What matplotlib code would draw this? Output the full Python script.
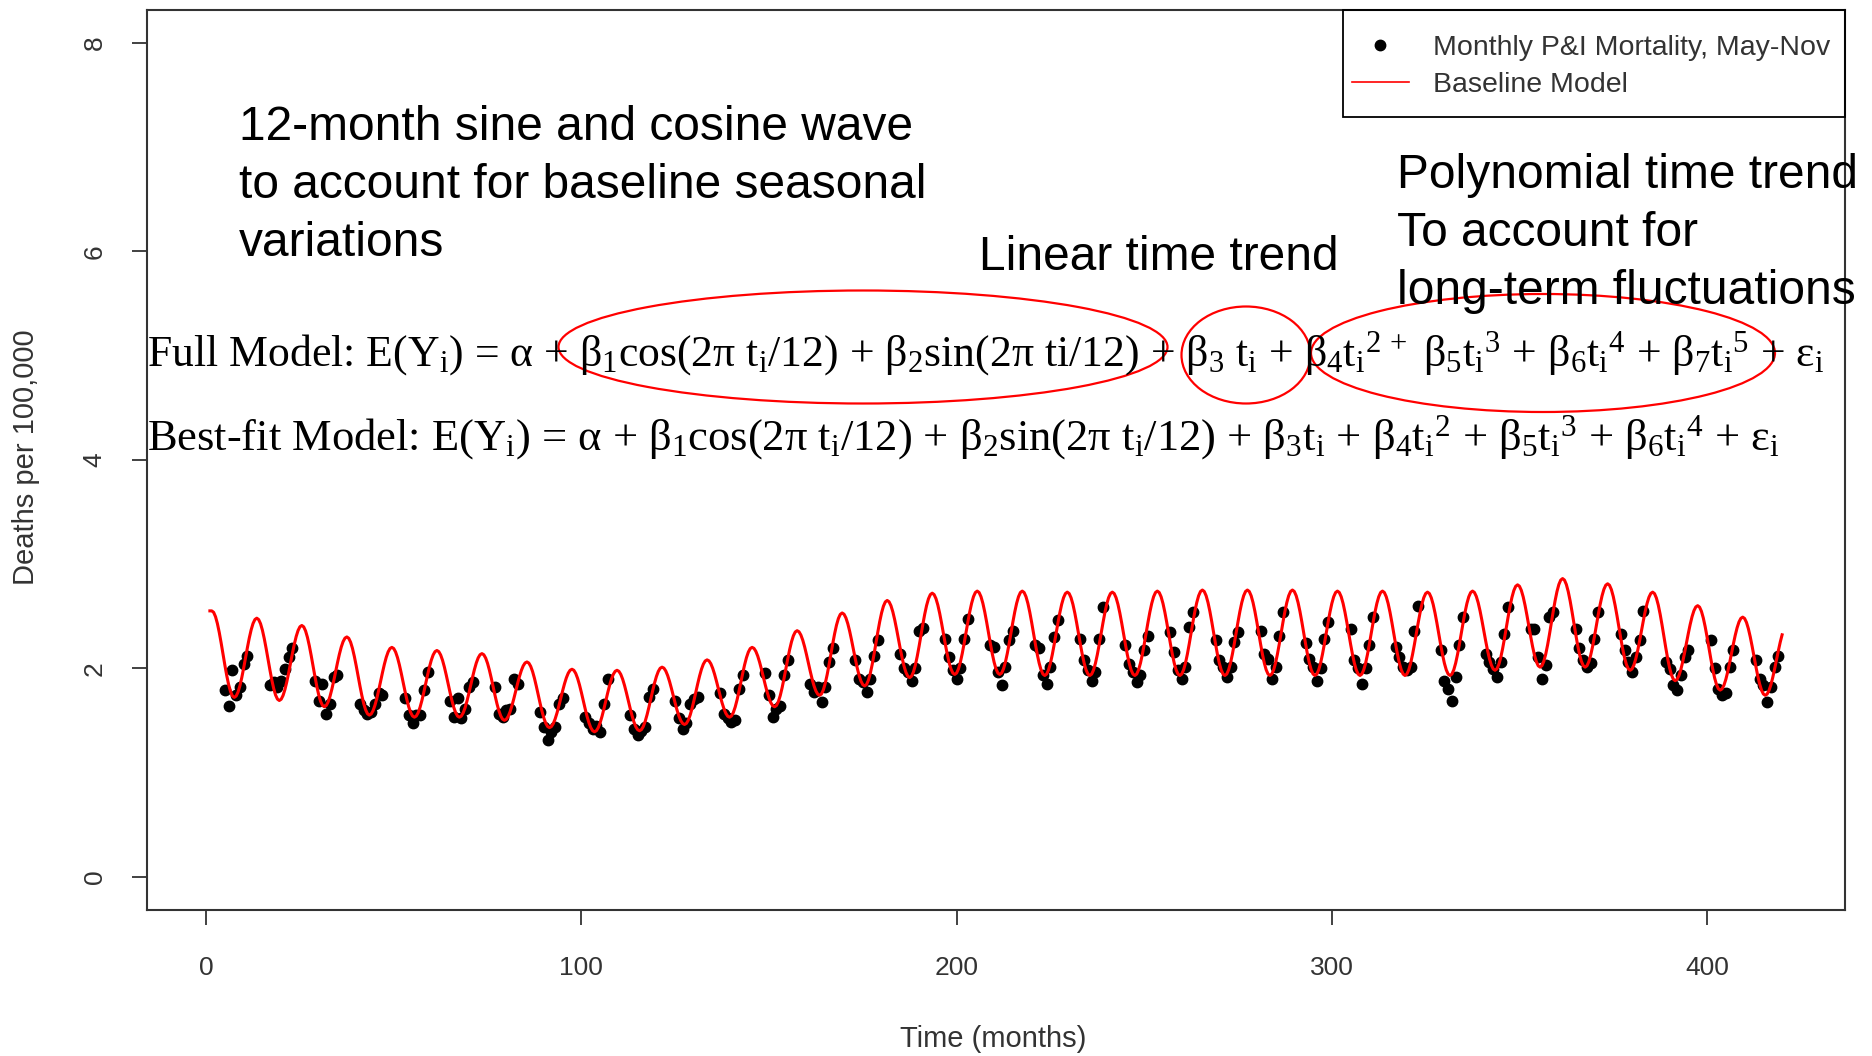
import numpy as np
import matplotlib
matplotlib.use("Agg")
import matplotlib.pyplot as plt
from matplotlib.patches import Ellipse, Rectangle
from matplotlib.lines import Line2D

# monthly P&I mortality, May..Nov of each year (t = 12*year + month)
MONTHS = [5, 6, 7, 8, 9, 10, 11]
mortality = [
    [1.79, 1.64, 1.98, 1.74, 1.82, 2.04, 2.12],
    [1.84, 1.87, 1.82, 1.88, 1.99, 2.11, 2.19],
    [1.88, 1.69, 1.85, 1.56, 1.66, 1.92, 1.93],
    [1.66, 1.60, 1.56, 1.58, 1.66, 1.76, 1.74],
    [1.71, 1.55, 1.47, 1.55, 1.55, 1.79, 1.96],
    [1.69, 1.53, 1.71, 1.52, 1.61, 1.82, 1.87],
    [1.82, 1.56, 1.53, 1.60, 1.61, 1.90, 1.85],
    [1.58, 1.44, 1.31, 1.39, 1.44, 1.66, 1.71],
    [1.53, 1.47, 1.42, 1.45, 1.39, 1.66, 1.90],
    [1.55, 1.42, 1.36, 1.40, 1.44, 1.72, 1.80],
    [1.69, 1.52, 1.42, 1.47, 1.66, 1.70, 1.72],
    [1.76, 1.56, 1.52, 1.48, 1.50, 1.80, 1.93],
    [1.95, 1.74, 1.53, 1.61, 1.64, 1.93, 2.08],
    [1.85, 1.77, 1.82, 1.68, 1.82, 2.06, 2.19],
    [2.08, 1.90, 1.87, 1.77, 1.90, 2.12, 2.27],
    [2.14, 2.00, 1.96, 1.88, 2.00, 2.36, 2.39],
    [2.28, 2.11, 1.98, 1.90, 2.00, 2.28, 2.47],
    [2.22, 2.20, 1.96, 1.84, 2.01, 2.27, 2.36],
    [2.22, 2.19, 1.93, 1.85, 2.01, 2.30, 2.46],
    [2.28, 2.08, 1.98, 1.88, 1.96, 2.28, 2.59],
    [2.22, 2.04, 1.96, 1.87, 1.93, 2.17, 2.31],
    [2.35, 2.16, 1.98, 1.90, 2.01, 2.40, 2.54],
    [2.27, 2.08, 2.01, 1.92, 2.01, 2.25, 2.35],
    [2.36, 2.14, 2.09, 1.90, 2.01, 2.31, 2.54],
    [2.24, 2.09, 2.01, 1.88, 2.00, 2.28, 2.44],
    [2.38, 2.08, 2.00, 1.85, 2.00, 2.22, 2.49],
    [2.20, 2.11, 2.01, 1.98, 2.01, 2.36, 2.60],
    [2.17, 1.88, 1.80, 1.69, 1.92, 2.22, 2.49],
    [2.14, 2.06, 1.99, 1.92, 2.06, 2.33, 2.59],
    [2.38, 2.38, 2.11, 1.90, 2.03, 2.49, 2.54],
    [2.38, 2.19, 2.08, 2.01, 2.05, 2.28, 2.54],
    [2.33, 2.17, 2.06, 1.96, 2.11, 2.27, 2.55],
    [2.06, 1.99, 1.84, 1.79, 1.93, 2.11, 2.17],
    [2.27, 2.00, 1.80, 1.74, 1.76, 2.01, 2.17],
    [2.08, 1.90, 1.84, 1.68, 1.82, 2.01, 2.12],
]

# baseline model: winter peaks (t = 1.5, 13.5, ...) and summer troughs (t = 7.5, 19.5, ...)
model_peaks = [2.55, 2.48, 2.41, 2.30, 2.20, 2.17, 2.14, 2.06, 1.99, 1.98, 2.01, 2.08,
               2.20, 2.36, 2.53, 2.65, 2.72, 2.74, 2.74, 2.73, 2.73, 2.74, 2.75, 2.75,
               2.75, 2.74, 2.74, 2.73, 2.74, 2.80, 2.86, 2.81, 2.73, 2.60, 2.49, 2.42]
model_troughs = [1.72, 1.69, 1.63, 1.55, 1.53, 1.53, 1.50, 1.43, 1.39, 1.40, 1.46, 1.53,
                 1.63, 1.74, 1.83, 1.91, 1.94, 1.94, 1.93, 1.93, 1.93, 1.93, 1.93, 1.93,
                 1.93, 1.93, 1.93, 1.93, 1.98, 2.01, 2.01, 1.98, 1.88, 1.79, 1.74]
FIRST_PEAK = 1.5
T_START, T_END = 1, 420

XTICKS = [0, 100, 200, 300, 400]
YTICKS = [0, 2, 4, 6, 8]

W, H = 1872, 1056


def model_curve():
    ext_v = []
    for p, tr in zip(model_peaks, model_troughs):
        ext_v += [p, tr]
    ext_v.append(model_peaks[-1])
    ext_v = np.array(ext_v)
    ext_t = FIRST_PEAK + 6 * np.arange(len(ext_v))
    t = np.arange(T_START, T_END + 0.01, 0.5)
    idx = np.clip(((t - FIRST_PEAK) // 6).astype(int), 0, len(ext_v) - 2)
    frac = np.clip((t - ext_t[idx]) / 6, 0, 1)
    v = ext_v[idx] + (ext_v[idx + 1] - ext_v[idx]) * (1 - np.cos(np.pi * frac)) / 2
    return t, v


def fx(px):
    return px / W


def fy(py):
    return 1 - py / H


plt.rcParams["mathtext.fontset"] = "custom"
plt.rcParams["mathtext.rm"] = "Liberation Serif"
plt.rcParams["mathtext.it"] = "Liberation Serif"
plt.rcParams["mathtext.bf"] = "Liberation Serif:bold"

narrow = ["Liberation Sans Narrow", "Liberation Sans", "DejaVu Sans"]
grey = "#333333"

fig = plt.figure(figsize=(W / 100, H / 100), dpi=100)
ax = fig.add_axes([fx(147), fy(910), fx(1845) - fx(147), fy(9.5) - fy(910)])

pt_t = [12 * yr + m for yr in range(len(mortality)) for m in MONTHS]
pt_v = [v for row in mortality for v in row]
ax.plot(pt_t, pt_v, "o", color="black", ms=7.5, mec="black", zorder=2)

mt, mv = model_curve()
ax.plot(mt, mv, color="red", lw=2.2, zorder=3)

pad = 0.04 * (T_END - T_START)
ax.set_xlim(T_START - pad, T_END + pad)
ax.set_ylim(-0.32, 8.32)
ax.set_xticks(XTICKS)
ax.set_yticks(YTICKS)
ax.set_xticklabels([str(v) for v in XTICKS], family=narrow, fontsize=19, color=grey)
ax.set_yticklabels([str(v) for v in YTICKS], family=narrow, fontsize=19, color=grey,
                   rotation=90, va="center")
ax.tick_params(length=11, width=1.3, color=grey)
ax.tick_params(axis="x", pad=22)
ax.tick_params(axis="y", pad=18)
for s in ax.spines.values():
    s.set_linewidth(1.5)
    s.set_color(grey)

fig.text(fx(993), fy(1039), "Time (months)", family=narrow, fontsize=21, color=grey,
         ha="center", va="center")
fig.text(fx(26), fy(457), "Deaths per 100,000", family=narrow, fontsize=21, color=grey,
         ha="center", va="center", rotation=90)

# legend: entries without frame, box drawn separately (R style, tall padding)
handles = [Line2D([], [], ls="none", marker="o", color="black", ms=7.5),
           Line2D([], [], color="red", lw=1.2)]
leg = ax.legend(handles, ["Monthly P&I Mortality, May-Nov", "Baseline Model"],
                loc="upper left", bbox_to_anchor=(fx(1352), fy(35)),
                bbox_transform=fig.transFigure, borderaxespad=0, borderpad=0,
                frameon=False, prop={"family": narrow, "size": 20.5},
                handlelength=2.0, handletextpad=0.85, labelspacing=0.4)
for txt in leg.get_texts():
    txt.set_color(grey)
ax.add_patch(Rectangle((fx(1343), fy(117)), fx(1845) - fx(1343), fy(9.5) - fy(117),
                       transform=fig.transFigure, fill=False, edgecolor="black",
                       lw=1.3, clip_on=False, zorder=5))

# slide annotations
sans = ["Liberation Sans", "DejaVu Sans"]
for y, s in zip([128, 185, 244], ["12-month sine and cosine wave",
                                  "to account for baseline seasonal",
                                  "variations"]):
    fig.text(fx(239), fy(y), s, family=sans, fontsize=34.5, va="center")
fig.text(fx(979), fy(257), "Linear time trend", family=sans, fontsize=34.5, va="center")
for y, s in zip([176, 234, 292], ["Polynomial time trend",
                                  "To account for",
                                  "long-term fluctuations"]):
    fig.text(fx(1397), fy(y), s, family=sans, fontsize=34.5, va="center")

full_eq = ("Full Model: E(Y${}_i$) = α + β${}_1$cos(2π t${}_i$/12) + β${}_2$sin(2π ti/12)"
           " + β${}_3$ t${}_i$ + β${}_4$t${}_i{}^{2\\,+}$ β${}_5$t${}_i{}^3$ + β${}_6$t${}_i{}^4$"
           " + β${}_7$t${}_i{}^5$ + ε${}_i$")
best_eq = ("Best-fit Model: E(Y${}_i$) = α + β${}_1$cos(2π t${}_i$/12) + β${}_2$sin(2π t${}_i$/12)"
           " + β${}_3$t${}_i$ + β${}_4$t${}_i{}^2$ + β${}_5$t${}_i{}^3$ + β${}_6$t${}_i{}^4$ + ε${}_i$")
serif = ["Liberation Serif", "DejaVu Serif"]
fig.text(fx(147), fy(366), full_eq, family=serif, fontsize=31.5, va="baseline")
fig.text(fx(147), fy(450), best_eq, family=serif, fontsize=32, va="baseline")

for cx, cy, w, h in [(863, 347, 609, 113), (1246, 355, 129, 97), (1543, 353, 464, 118)]:
    fig.patches.append(Ellipse((fx(cx), fy(cy)), w / W, h / H, transform=fig.transFigure,
                               fill=False, edgecolor="red", lw=1.6))

fig.savefig("out.png", dpi=100)
